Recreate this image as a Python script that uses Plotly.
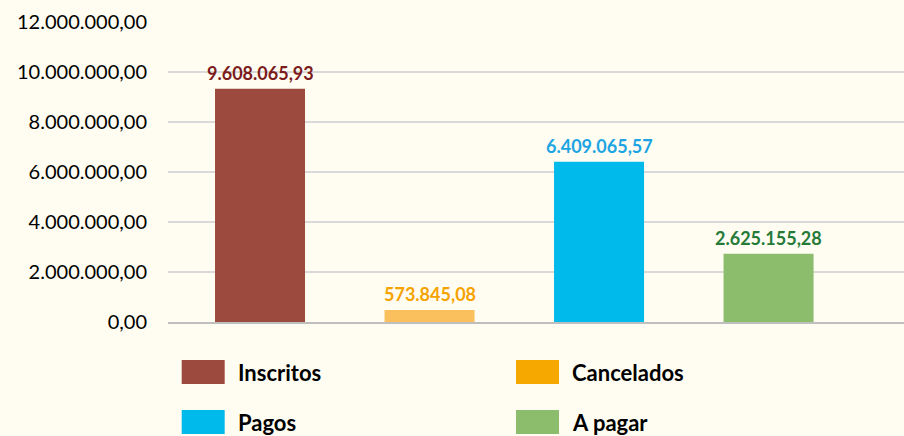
import plotly.graph_objects as go

# ---- data ----
categories = ["Inscritos", "Cancelados", "Pagos", "A pagar"]
values = [9330000, 480000, 6410000, 2730000]          # bar heights as drawn
value_labels = ["9.608.065,93", "573.845,08", "6.409.065,57", "2.625.155,28"]
tick_values = [0, 2000000, 4000000, 6000000, 8000000, 10000000, 12000000]
tick_labels = ["0,00", "2.000.000,00", "4.000.000,00", "6.000.000,00",
               "8.000.000,00", "10.000.000,00", "12.000.000,00"]

# ---- styles ----
bar_colors = ["#9C4A3D", "#FBC05E", "#00BAEB", "#8BBD6C"]
legend_colors = ["#9C4A3D", "#F7A800", "#00BAEB", "#8BBD6C"]
label_colors = ["#7B1B1B", "#F5A300", "#1DA4E2", "#257A38"]
bg = "#FFFDF2"
FONT = "Lato"

W, H = 904, 436
ML, MR, MT, MB = 168, 0, 22, 114
PW, PH = W - ML - MR, H - MT - MB

fig = go.Figure()
fig.add_trace(go.Bar(
    x=categories, y=values,
    marker=dict(color=bar_colors, line=dict(width=0)),
    width=0.531, showlegend=False, hoverinfo="skip",
))

annotations = []
for c, v, t, col in zip(categories, values, value_labels, label_colors):
    annotations.append(dict(
        x=c, y=v, xref="x", yref="y", text="<b>%s</b>" % t,
        showarrow=False, xanchor="center", yanchor="bottom", yshift=3,
        font=dict(family=FONT, size=18, color=col),
    ))

# manual legend (2 x 2 grid)
def px_to_paper_x(px):
    return (px - ML) / PW

def px_to_paper_y(py):
    return (MT + PH - py) / PH

col_left = [181.7, 516.0]
row_center = [372.0, 422.0]
sw_w, sw_h, text_gap = 43, 24, 54
shapes = []
for i, (name, col) in enumerate(zip(categories, legend_colors)):
    r, k = divmod(i, 2)
    x0 = col_left[k]
    yc = row_center[r]
    shapes.append(dict(
        type="rect", xref="paper", yref="paper",
        x0=px_to_paper_x(x0), x1=px_to_paper_x(x0 + sw_w),
        y0=px_to_paper_y(yc + sw_h / 2), y1=px_to_paper_y(yc - sw_h / 2),
        fillcolor=col, line=dict(width=0), layer="above",
    ))
    annotations.append(dict(
        x=px_to_paper_x(x0 + text_gap), y=px_to_paper_y(yc),
        xref="paper", yref="paper", text="<b>%s</b>" % name,
        showarrow=False, xanchor="left", yanchor="middle",
        font=dict(family=FONT, size=22, color="#000000"),
    ))

fig.update_layout(
    width=W, height=H,
    margin=dict(l=ML, r=MR, t=MT, b=MB, pad=0),
    paper_bgcolor=bg, plot_bgcolor=bg,
    annotations=annotations, shapes=shapes,
    showlegend=False,
    xaxis=dict(
        type="category", range=[-0.5428, 3.799],
        showticklabels=False, showgrid=False, zeroline=False,
        showline=True, linecolor="#BFBFBF", linewidth=2, ticks="",
        fixedrange=True,
    ),
    yaxis=dict(
        range=[0, 12000000], tickmode="array",
        tickvals=tick_values, ticktext=tick_labels,
        showgrid=True, gridcolor="#D9D9D9", gridwidth=2,
        zeroline=False, showline=False, ticks="",
        ticklabelstandoff=20,
        tickfont=dict(family=FONT, size=20, color="#000000"),
        fixedrange=True,
    ),
)

fig.write_html(
    "out.html",
    config={"displayModeBar": False},
    post_script="document.body.style.margin='0';document.body.style.background='%s';" % bg,
)
